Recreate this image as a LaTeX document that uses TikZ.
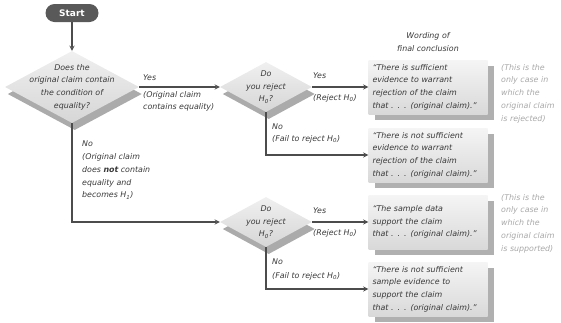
\documentclass[tikz,border=0pt]{standalone}
\usepackage{fontspec}
\setmainfont{DejaVu Sans}
\usetikzlibrary{arrows,shapes,shadows}

\newcommand\hypo[1]{\textit{H}\textsubscript{#1}}

\begin{document}
\begin{tikzpicture}[x=1pt,y=-1pt,>=stealth,
    every node/.style={font=\fontsize{7.9}{12.7}\selectfont\itshape,text=black!78,inner sep=0pt},
    question/.style={diamond,minimum width=92pt,minimum height=50pt,
      top color=gray!12,bottom color=gray!32,
      copy shadow={shadow yshift=-7pt,fill=gray!66,draw=none}},
    answer/.style={rectangle,minimum width=119pt,minimum height=54pt,
      text width=111pt,inner xsep=4pt,align=left,
      top color=gray!8,bottom color=gray!30,
      copy shadow={shadow xshift=6pt,shadow yshift=-6pt,fill=gray!62,draw=none}},
    flow/.style={draw=black!70,line width=1.3pt,->},
    tag/.style={align=left,anchor=north west},
    note/.style={tag,text=gray!68}
   ]
\useasboundingbox (0,0) rectangle (561,322);

\node[fill=black!65,rounded corners=9pt,minimum width=53pt,minimum height=18pt,
      text=white,font=\bfseries\fontsize{9}{10}\selectfont] (start) at (72,13) {Start};

\node[question,minimum width=134pt,minimum height=72pt,
      label={[align=center]center:{Does the\\original claim contain\\the condition of\\equality?}}]
      (q1) at (72,87) {};
\node[question,label={[align=center]center:{Do\\you reject\\\hypo{0}?}}] (q2) at (266,87) {};
\node[question,label={[align=center]center:{Do\\you reject\\\hypo{0}?}}] (q3) at (266,222) {};

\node[align=center] (head) at (428,42) {Wording of\\final conclusion};
\node[answer] (a1) at (428,87) {``There is sufficient\\evidence to warrant\\rejection of the claim\\that . . . (original claim).''};
\node[answer] (a2) at (428,155) {``There is not sufficient\\evidence to warrant\\rejection of the claim\\that . . . (original claim).''};
\node[answer] (a3) at (428,222) {``The sample data\\support the claim\\that . . . (original claim).''};
\node[answer] (a4) at (428,289) {``There is not sufficient\\sample evidence to\\support the claim\\that . . . (original claim).''};

\node[note] (note1) at (501,64) {(This is the\\only case in\\which the\\original claim\\is rejected)};
\node[note] (note2) at (501,194) {(This is the\\only case in\\which the\\original claim\\is supported)};

\draw[flow] (start) -- (q1);
\draw[flow] (q1) -- (q2);
\draw[flow] (q1.south) |- (q3.west);
\draw[flow] (q2) -- (a1);
\draw[flow] (q2.south) |- (a2.west);
\draw[flow] (q3) -- (a3);
\draw[flow] (q3.south) |- (a4.west);

\node[tag] (yes1) at (143,75) {Yes};
\node[tag] (why1) at (143,91) {(Original claim\\contains equality)};
\node[tag] (no1) at (82,141) {No\\(Original claim\\does \textbf{not} contain\\equality and\\becomes \hypo{1})};
\node[tag] (yes2) at (313,73) {Yes};
\node[tag] (rej2) at (313,94) {(Reject \hypo{0})};
\node[tag] (no2) at (272,124) {No};
\node[tag] (fail2) at (272,135) {(Fail to reject \hypo{0})};
\node[tag] (yes3) at (313,208) {Yes};
\node[tag] (rej3) at (313,229) {(Reject \hypo{0})};
\node[tag] (no3) at (272,259) {No};
\node[tag] (fail3) at (272,272) {(Fail to reject \hypo{0})};
\end{tikzpicture}
\end{document}
